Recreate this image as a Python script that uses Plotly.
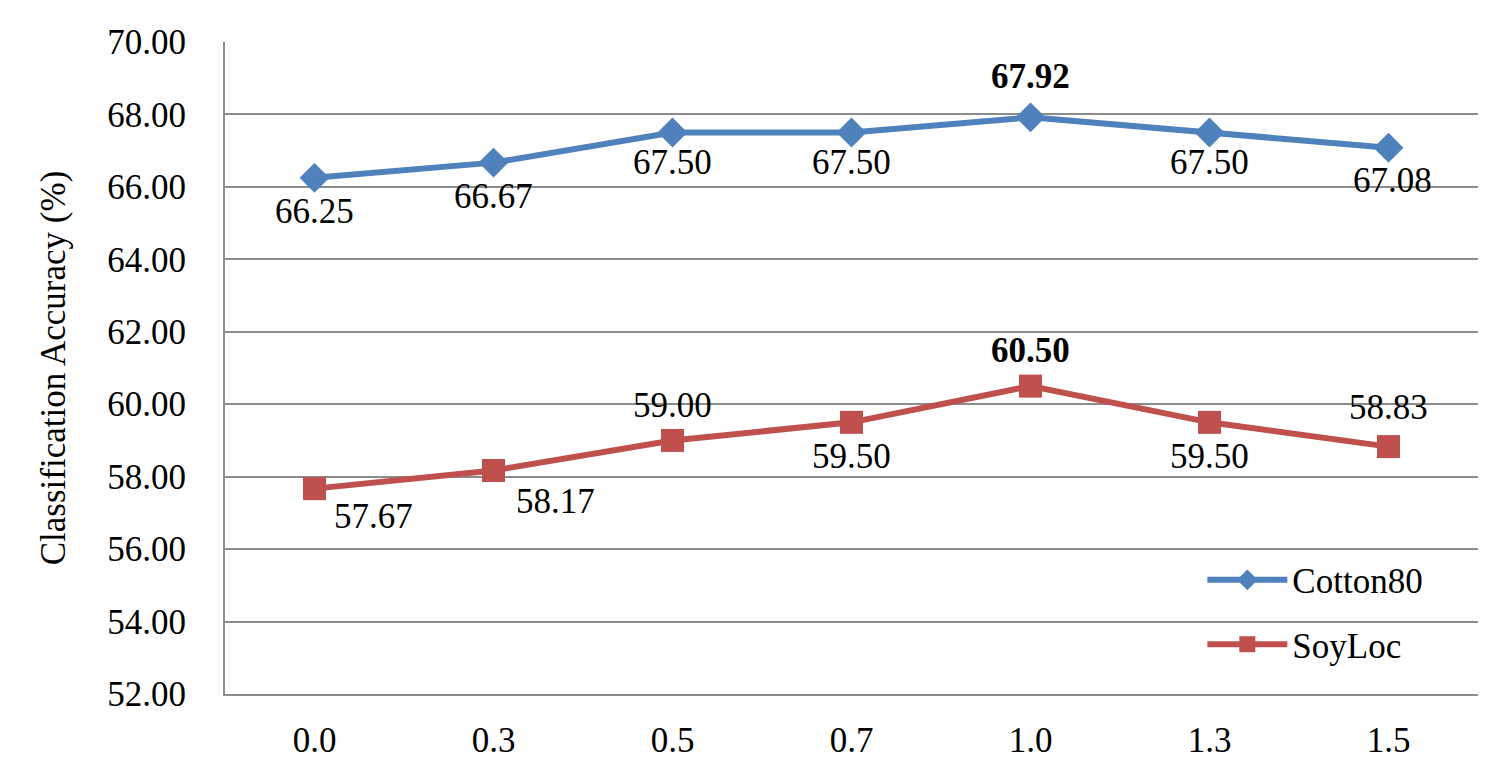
import plotly.graph_objects as go

categories = ["0.0", "0.3", "0.5", "0.7", "1.0", "1.3", "1.5"]
cotton80 = [66.25, 66.67, 67.50, 67.50, 67.92, 67.50, 67.08]
soyloc = [57.67, 58.17, 59.00, 59.50, 60.50, 59.50, 58.83]
# label placement per point: (xshift, yshift)
cotton_shift = [(0, -34), (0, -34), (0, -30), (0, -30), (0, 41), (0, -30), (4, -33)]
soy_shift = [(59, -28), (62, -31), (0, 35), (0, -34), (0, 36), (0, -34), (0, 39)]
best_idx = 4

BLUE = "#4F81BD"
RED = "#C0504D"
FONT = "Liberation Serif"

fig = go.Figure()
fig.add_trace(go.Scatter(x=categories, y=cotton80, name="Cotton80", mode="lines+markers",
                         legendgroup="a",
                         line=dict(color=BLUE, width=6),
                         marker=dict(symbol="diamond", size=23, color=BLUE)))
fig.add_trace(go.Scatter(x=categories, y=soyloc, name="SoyLoc", mode="lines+markers",
                         legendgroup="b",
                         line=dict(color=RED, width=6),
                         marker=dict(symbol="square", size=23, color=RED)))

for series, shifts in ((cotton80, cotton_shift), (soyloc, soy_shift)):
    for i, v in enumerate(series):
        txt = f"{v:.2f}"
        if i == best_idx:
            txt = f"<b>{txt}</b>"
        fig.add_annotation(x=i, y=v, xref="x", yref="y", text=txt, showarrow=False,
                           xshift=shifts[i][0], yshift=shifts[i][1],
                           font=dict(family=FONT, size=35, color="black"))

fig.update_layout(
    width=1494, height=774,
    margin=dict(l=217, r=24, t=34, b=88, autoexpand=False),
    paper_bgcolor="white", plot_bgcolor="white",
    font=dict(family=FONT, size=35, color="black"),
    showlegend=True,
    legend=dict(x=0.78, y=0.22, xanchor="left", yanchor="top",
                font=dict(family=FONT, size=35), bgcolor="rgba(0,0,0,0)",
                traceorder="grouped", tracegroupgap=16, itemwidth=80),
)
fig.update_xaxes(type="category", range=[-0.5, 6.5], showgrid=False, showline=True,
                 linecolor="#8c8c8c", linewidth=2, ticks="",
                 tickfont=dict(family=FONT, size=35),
                 ticklabelstandoff=14, automargin=False)
fig.update_yaxes(range=[52, 70], dtick=2, tickformat=".2f", showgrid=True,
                 gridcolor="#8c8c8c", gridwidth=2, showline=True, linecolor="#8c8c8c",
                 linewidth=2, zeroline=False, ticks="", automargin=False,
                 tickfont=dict(family=FONT, size=35), ticklabelstandoff=30,
                 title=dict(text="Classification Accuracy (%)", font=dict(family=FONT, size=35), standoff=31))

fig.write_html("out.html")
